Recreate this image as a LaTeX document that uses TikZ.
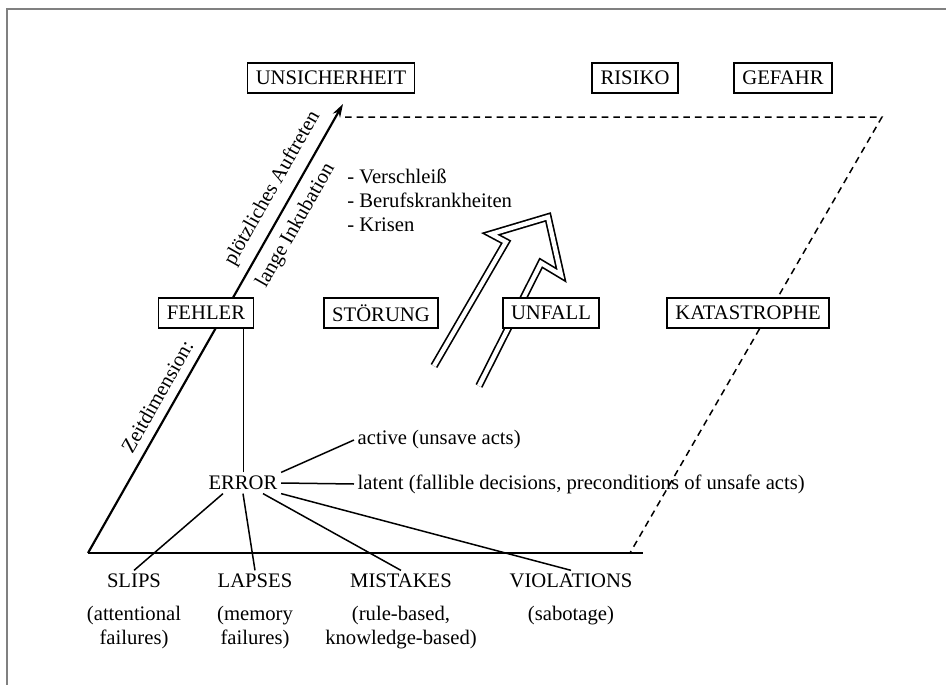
\documentclass[tikz,border=0pt]{standalone}
\usepackage{fontspec}
\setmainfont{Liberation Serif}
\usetikzlibrary{arrows.meta,calc}

\begin{document}
\begin{tikzpicture}[x=0.6pt, y=-0.6pt, >={Stealth[length=8pt,width=5pt]},
  font=\fontsize{12.4}{14.4}\selectfont,
  term/.style={draw, line width=1pt, fill=white, inner xsep=5pt, inner ysep=0pt, minimum height=18pt},
  lbl/.style={inner sep=2pt},
  ax/.style={line width=1.3pt},
  bound/.style={line width=0.9pt, dash pattern=on 4pt off 3pt},
  con/.style={line width=0.9pt}]
  \useasboundingbox (0,0) rectangle (946,685);
  % frame
  \draw[gray, line width=1.2pt] (7,685) -- (7,9) -- (946,9);
  % Axes
  \coordinate (O) at (88,553);
  \coordinate (T) at (343,104);
  \draw[ax] (O) -- (643,553);
  \draw[ax,->] (O) -- node[pos=0.33, sloped, above=2pt] {Zeitdimension:}
    node[pos=0.79, sloped, above=2pt] {plötzliches Auftreten}
    node[pos=0.75, sloped, below=2pt] {lange Inkubation} (T);
  \draw[bound] (345,117) -- (882,117) -- (630,553);
  % hollow arrow
  \draw[line width=1pt, double, double distance=2.6pt, line join=miter]
    (434,366) -- (506,242) -- (491,234) -- (548,217) -- (561,275) -- (541,263) -- (479,386);
  % Nodes
  \node[term] (unsich) at (331,78) {UNSICHERHEIT};
  \node[term] (risiko) at (635,78) {RISIKO};
  \node[term] (gefahr) at (783,78) {GEFAHR};
  \node[term] (fehler) at (206,313) {FEHLER};
  \node[term] (stoer) at (381,313) {STÖRUNG};
  \node[term] (unfall) at (551,313) {UNFALL};
  \node[term] (kata) at (748,313) {KATASTROPHE};
  \node[anchor=west, align=left, inner sep=0pt] (liste) at (347,200) {- Verschleiß\\- Berufskrankheiten\\- Krisen};
  \node[lbl] (error) at (243,483) {ERROR};
  \node[lbl, anchor=west] (active) at (354,440) {active (unsave acts)};
  \node[lbl, anchor=west] (latent) at (354,484) {latent (fallible decisions, preconditions of unsafe acts)};
  \node[lbl] (slips) at (134,581) {SLIPS};
  \node[lbl] (lapses) at (255,581) {LAPSES};
  \node[lbl] (mistakes) at (401,581) {MISTAKES};
  \node[lbl] (violations) at (571,581) {VIOLATIONS};
  \node[align=center] (slipsx) at (134,628) {(attentional\\failures)};
  \node[align=center] (lapsesx) at (255,628) {(memory\\failures)};
  \node[align=center] (mistakesx) at (401,628) {(rule-based,\\knowledge-based)};
  \node (violationsx) at (571,616) {(sabotage)};
  % Edges
  \draw[thin] (error.north) -- (error.north |- fehler.south);
  \draw[con] (error.north east) -- (active.west);
  \draw[con] (error.east) -- (latent.west);
  \draw[con] ([xshift=-12pt]error.south) -- (slips.north);
  \draw[con] (error.south) -- (lapses.north);
  \draw[con] ([xshift=12pt]error.south) -- (mistakes.north);
  \draw[con] (error.south east) -- (violations.north);
\end{tikzpicture}
\end{document}
